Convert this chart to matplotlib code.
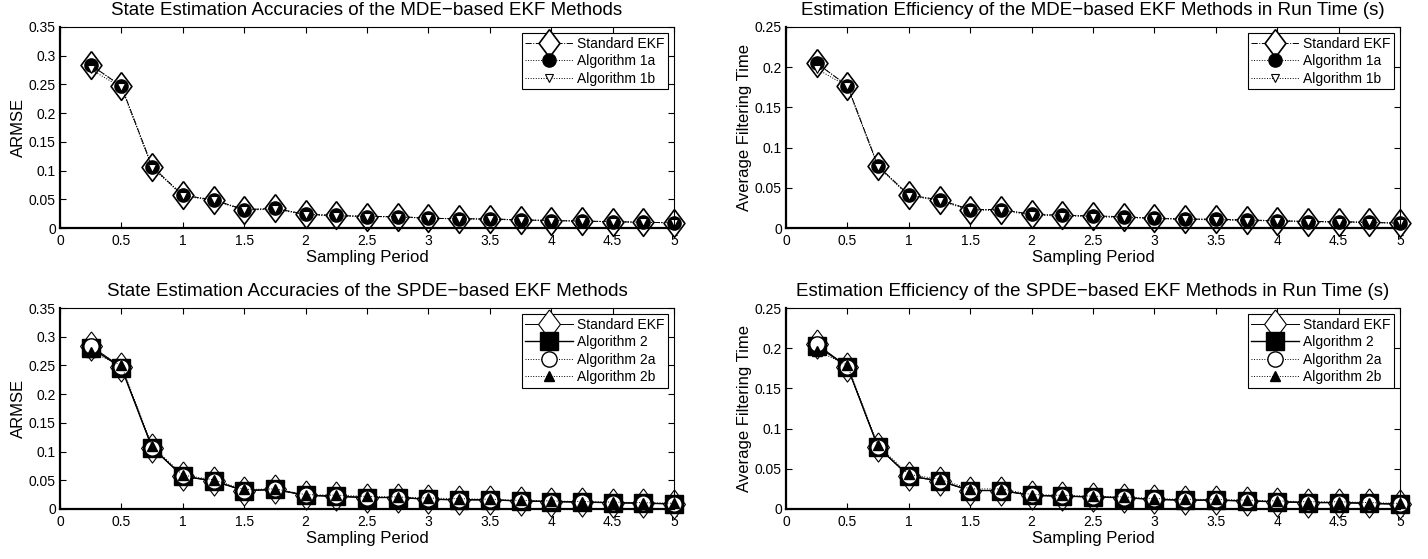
import numpy as np
import matplotlib.pyplot as plt

plt.rcParams['font.family'] = ['Liberation Sans', 'DejaVu Sans']

# sampling periods
T = [0.25, 0.5, 0.75, 1.0, 1.25, 1.5, 1.75, 2.0, 2.25, 2.5,
     2.75, 3.0, 3.25, 3.5, 3.75, 4.0, 4.25, 4.5, 4.75, 5.0]

# ARMSE values
armse_ekf = [0.284, 0.247, 0.107, 0.057, 0.049, 0.032, 0.034, 0.024, 0.022, 0.020,
             0.020, 0.017, 0.016, 0.016, 0.014, 0.013, 0.012, 0.011, 0.010, 0.009]
armse_1a = [0.284, 0.247, 0.107, 0.057, 0.049, 0.032, 0.034, 0.024, 0.022, 0.020,
            0.020, 0.017, 0.016, 0.016, 0.014, 0.013, 0.012, 0.011, 0.010, 0.009]
armse_1b = [0.276, 0.245, 0.105, 0.056, 0.048, 0.031, 0.033, 0.023, 0.021, 0.020,
            0.019, 0.017, 0.016, 0.015, 0.014, 0.013, 0.012, 0.011, 0.010, 0.009]
armse_2 = [0.281, 0.246, 0.107, 0.057, 0.049, 0.032, 0.034, 0.024, 0.022, 0.020,
           0.020, 0.017, 0.016, 0.016, 0.014, 0.013, 0.012, 0.011, 0.010, 0.009]
armse_2a = [0.284, 0.247, 0.107, 0.057, 0.049, 0.032, 0.034, 0.024, 0.022, 0.020,
            0.020, 0.017, 0.016, 0.016, 0.014, 0.013, 0.012, 0.011, 0.010, 0.009]
armse_2b = [0.274, 0.250, 0.110, 0.059, 0.051, 0.034, 0.035, 0.025, 0.024, 0.022,
            0.021, 0.019, 0.018, 0.017, 0.015, 0.014, 0.013, 0.012, 0.011, 0.010]

# average filtering time (s)
time_ekf = [0.205, 0.177, 0.077, 0.041, 0.035, 0.023, 0.023, 0.017, 0.016, 0.015,
            0.014, 0.012, 0.011, 0.011, 0.010, 0.009, 0.008, 0.008, 0.007, 0.006]
time_1a = [0.205, 0.177, 0.077, 0.041, 0.035, 0.023, 0.023, 0.017, 0.016, 0.015,
           0.014, 0.012, 0.011, 0.011, 0.010, 0.009, 0.008, 0.008, 0.007, 0.006]
time_1b = [0.198, 0.176, 0.076, 0.040, 0.034, 0.022, 0.022, 0.016, 0.015, 0.014,
           0.013, 0.012, 0.011, 0.010, 0.009, 0.009, 0.008, 0.007, 0.007, 0.006]
time_2 = [0.203, 0.177, 0.077, 0.041, 0.035, 0.023, 0.023, 0.017, 0.016, 0.015,
          0.014, 0.012, 0.011, 0.011, 0.010, 0.009, 0.008, 0.008, 0.007, 0.006]
time_2a = [0.205, 0.177, 0.077, 0.041, 0.035, 0.023, 0.023, 0.017, 0.016, 0.015,
           0.014, 0.012, 0.011, 0.011, 0.010, 0.009, 0.008, 0.008, 0.007, 0.006]
time_2b = [0.197, 0.179, 0.079, 0.043, 0.037, 0.025, 0.025, 0.018, 0.017, 0.016,
           0.015, 0.013, 0.012, 0.012, 0.011, 0.010, 0.009, 0.009, 0.008, 0.007]

titles = ['State Estimation Accuracies of the MDE\u2212based EKF Methods',
          'Estimation Efficiency of the MDE\u2212based EKF Methods in Run Time (s)',
          'State Estimation Accuracies of the SPDE\u2212based EKF Methods',
          'Estimation Efficiency of the SPDE\u2212based EKF Methods in Run Time (s)']
ylabels = ['ARMSE', 'Average Filtering Time', 'ARMSE', 'Average Filtering Time']

# matlab style diamond, a bit taller than wide
diamond = [(0, 1), (0.75, 0), (0, -1), (-0.75, 0), (0, 1)]


def style_axes(ax, ymax, ystep, title, ylabel):
    ax.set_xlim(0, 5)
    ax.set_ylim(0, ymax)
    ax.set_xticks(np.arange(0, 5.01, 0.5))
    ax.set_xticklabels(['0', '0.5', '1', '1.5', '2', '2.5', '3', '3.5', '4', '4.5', '5'])
    yt = np.arange(0, ymax + 1e-9, ystep)
    ax.set_yticks(yt)
    ax.set_yticklabels(['0'] + ['%g' % v for v in yt[1:]])
    ax.tick_params(direction='in', top=True, right=True, length=4, width=0.8,
                   labelsize=10, pad=3)
    ax.tick_params(axis='x', pad=4.5)
    for s in ax.spines.values():
        s.set_linewidth(0.8)
    ax.spines['bottom'].set_linewidth(1.6)
    ax.spines['left'].set_linewidth(1.6)
    ax.set_title(title, fontsize=13.5, pad=8.5)
    ax.set_xlabel('Sampling Period', fontsize=12, labelpad=1.5)
    ax.set_ylabel(ylabel, fontsize=12, labelpad=2)


def leg(ax):
    lg = ax.legend(loc='upper right', fontsize=10, fancybox=False, framealpha=1,
                   edgecolor='black', handlelength=3.4, handletextpad=0.3,
                   borderpad=0.25, labelspacing=0.25, borderaxespad=0.45)
    lg.get_frame().set_linewidth(0.8)


fig = plt.figure(figsize=(14.28, 5.59), dpi=100)
w = 614 / 1428
h = 201 / 559
axes = [fig.add_axes([60 / 1428, 1 - 228 / 559, w, h]),
        fig.add_axes([786 / 1428, 1 - 228 / 559, w, h]),
        fig.add_axes([60 / 1428, 1 - 509 / 559, w, h]),
        fig.add_axes([786 / 1428, 1 - 509 / 559, w, h])]

top_sets = [(armse_ekf, armse_1a, armse_1b), (time_ekf, time_1a, time_1b)]
bot_sets = [(armse_ekf, armse_2, armse_2a, armse_2b), (time_ekf, time_2, time_2a, time_2b)]

for ax, (ekf, a, b) in zip(axes[:2], top_sets):
    ax.plot(T, ekf, '-.', color='black', lw=0.7, marker=diamond, ms=20, mfc='white',
            mec='black', mew=1.2, label='Standard EKF')
    ax.plot(T, a, ':', color='black', lw=0.7, marker='o', ms=9.5, mfc='black',
            mec='black', label='Algorithm 1a')
    ax.plot(T, b, ':', color='black', lw=0.7, marker='v', ms=6, mfc='white',
            mec='black', mew=0.8, label='Algorithm 1b')
    leg(ax)

for ax, (ekf, s2, a, b) in zip(axes[2:], bot_sets):
    ax.plot(T, ekf, '-', color='black', lw=0.7, marker=diamond, ms=21, mfc='white',
            mec='black', mew=0.8, label='Standard EKF')
    ax.plot(T, s2, '-', color='black', lw=1.0, marker='s', ms=12.5, mfc='black',
            mec='black', label='Algorithm 2')
    ax.plot(T, a, ':', color='black', lw=0.7, marker='o', ms=11, mfc='white',
            mec='black', mew=1.0, label='Algorithm 2a')
    ax.plot(T, b, ':', color='black', lw=0.7, marker='^', ms=7, mfc='black',
            mec='black', label='Algorithm 2b')
    leg(ax)

ymaxes = [0.35, 0.25, 0.35, 0.25]
for ax, ym, t, yl in zip(axes, ymaxes, titles, ylabels):
    style_axes(ax, ym, 0.05, t, yl)
    for line in ax.get_lines():
        line.set_clip_on(False)

fig.savefig('out.png', dpi=100)
